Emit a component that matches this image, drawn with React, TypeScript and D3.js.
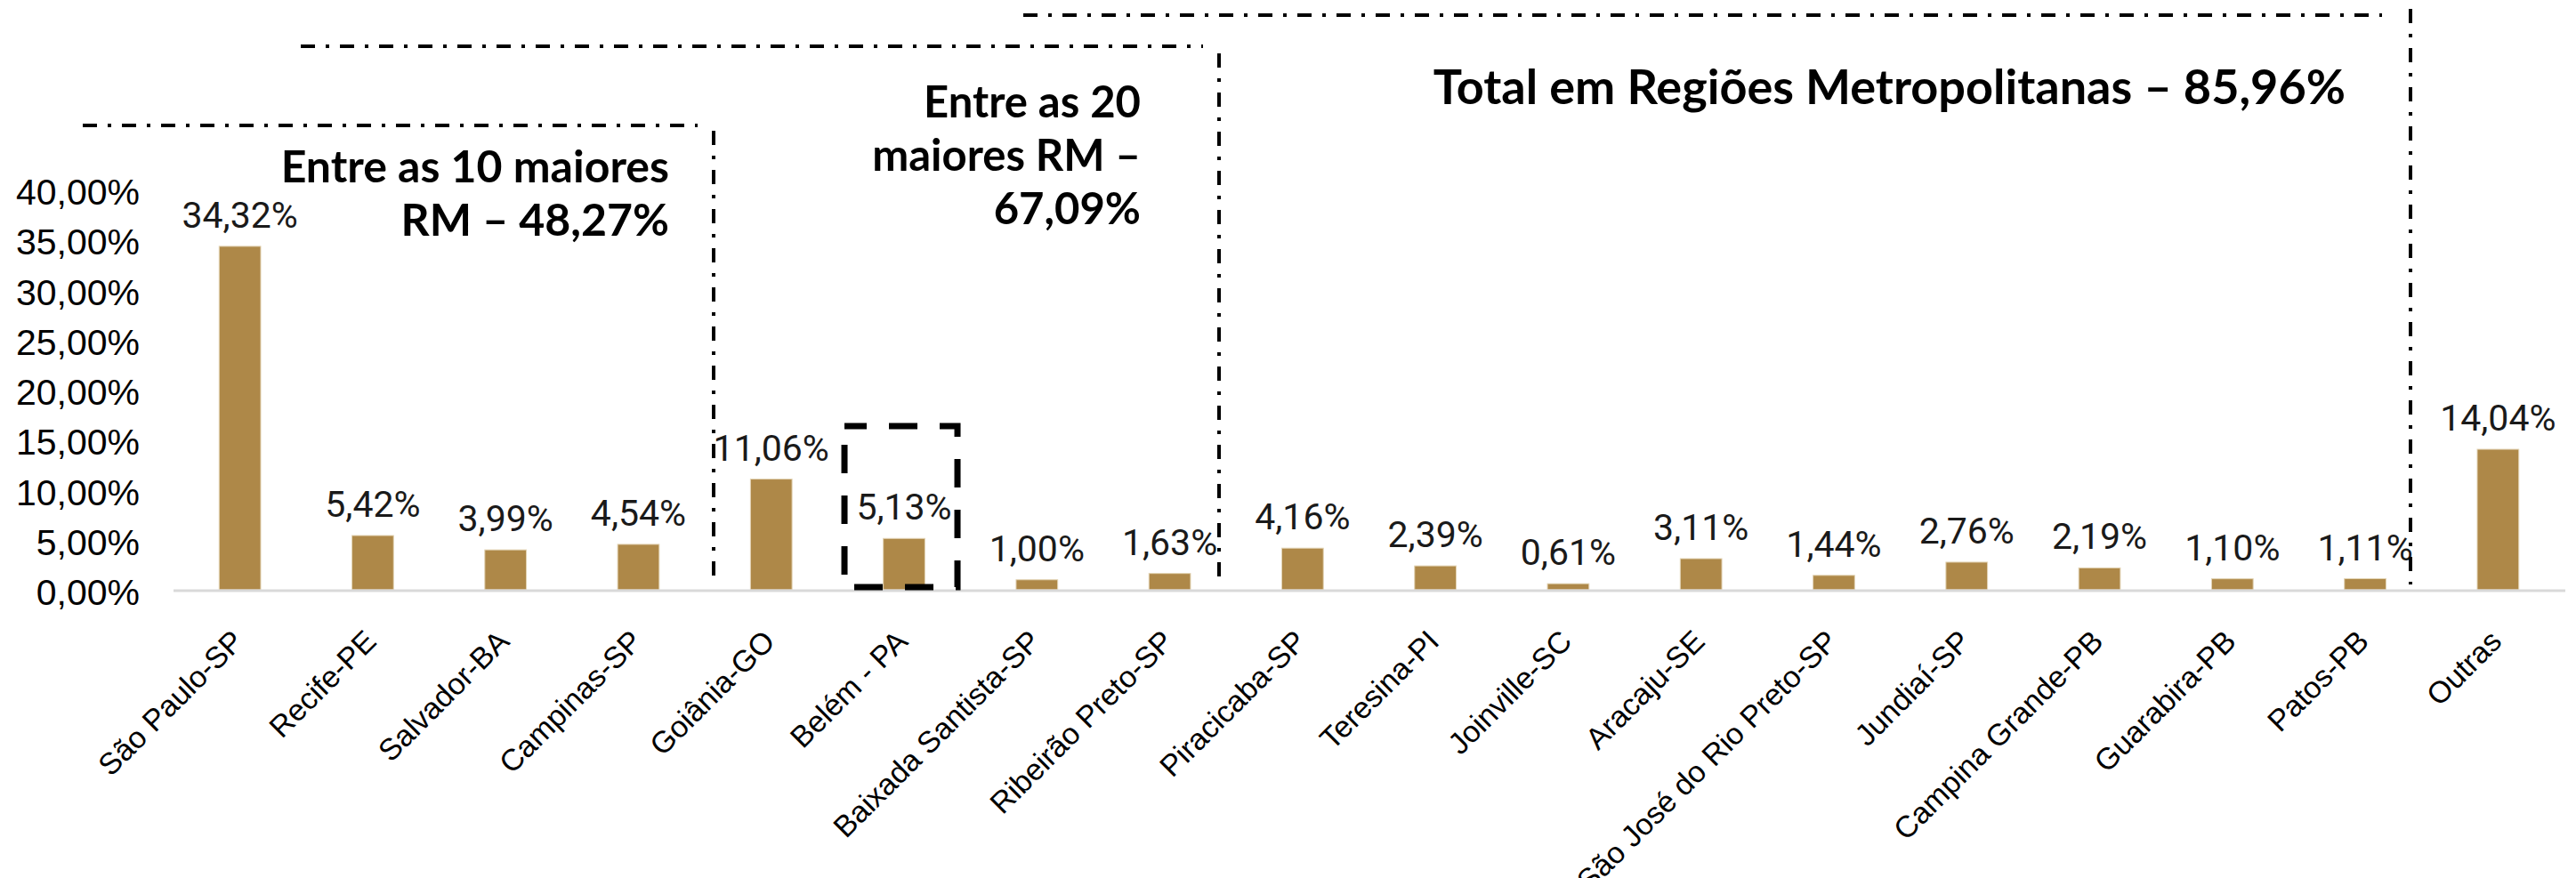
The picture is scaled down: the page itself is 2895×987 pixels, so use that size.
import React from 'react';
import * as d3 from 'd3';

const categories = [
  'São Paulo-SP', 'Recife-PE', 'Salvador-BA', 'Campinas-SP', 'Goiânia-GO', 'Belém - PA',
  'Baixada Santista-SP', 'Ribeirão Preto-SP', 'Piracicaba-SP', 'Teresina-PI', 'Joinville-SC',
  'Aracaju-SE', 'São José do Rio Preto-SP', 'Jundiaí-SP', 'Campina Grande-PB', 'Guarabira-PB',
  'Patos-PB', 'Outras'
];
const shares = [34.32, 5.42, 3.99, 4.54, 11.06, 5.13, 1.0, 1.63, 4.16, 2.39, 0.61, 3.11, 1.44, 2.76, 2.19, 1.1, 1.11, 14.04];
const yTicks = [0, 5, 10, 15, 20, 25, 30, 35, 40];

const groupNotes = [
  {lines: ['Entre as 10 maiores', 'RM – 48,27%'], x: 752, y: 205, size: 50},
  {lines: ['Entre as 20', 'maiores RM –', '67,09%'], x: 1282, y: 132, size: 49},
  {lines: ['Total em Regiões Metropolitanas – 85,96%'], x: 2636, y: 117, size: 54}
];

const W = 2895, H = 987;
const fmt = (v: number) => v.toFixed(2).replace('.', ',') + '%';

const App = () => {
  const x = d3.scaleBand<string>()
    .domain(categories)
    .range([195, 2882])
    .paddingInner(0.687)
    .paddingOuter(0.3435);
  const y = d3.scaleLinear().domain([0, 40]).range([663, 213]);
  const bw = x.bandwidth();

  // dash-dot brackets around the groups
  const dashDot = '16 12 4 12';
  const brackets = [
    {hx0: 93, hx1: 784, hy: 141, vx: 802, vy0: 147},
    {hx0: 338, hx1: 1352, hy: 52, vx: 1370, vy0: 60},
    {hx0: 1150, hx1: 2677, hy: 17, vx: 2709, vy0: 10}
  ];

  // dashed highlight box around Belém
  const bx = (x('Belém - PA') as number) + bw / 2;
  const hl = {x0: bx - 67, x1: bx + 60, y0: 479, y1: 660};

  return (
    <svg width={W} height={H} style={{position: 'absolute', left: 0, top: 0, background: '#fff'}}>
      {/* y axis labels */}
      {yTicks.map(t => (
        <text key={t} x={157} y={y(t) + 3} textAnchor="end" dominantBaseline="central"
          fontFamily="'Liberation Sans', Arial, sans-serif" fontSize={41} fill="#000">
          {fmt(t)}
        </text>
      ))}

      {/* bars */}
      {categories.map((c, i) => (
        <rect key={c} x={x(c)} y={y(shares[i])} width={bw} height={y(0) - y(shares[i])}
          fill="#AE8848" stroke="#e2d3b4" strokeWidth={1} />
      ))}

      {/* baseline */}
      <line x1={195} x2={2883} y1={y(0) + 1} y2={y(0) + 1} stroke="#d9d9d9" strokeWidth={3} />

      {/* value labels */}
      {categories.map((c, i) => (
        <text key={c} x={(x(c) as number) + bw / 2} y={y(shares[i]) - 21} textAnchor="middle"
          fontFamily="Roboto, sans-serif" fontSize={41} fill="#1a1a1a">
          {fmt(shares[i])}
        </text>
      ))}

      {/* category labels */}
      {categories.map(c => (
        <text key={c} transform={`translate(${(x(c) as number) + bw / 2 + 6}, ${y(0) + 60}) rotate(-45)`}
          textAnchor="end" fontFamily="'Liberation Sans', Arial, sans-serif" fontSize={34} fill="#000">
          {c}
        </text>
      ))}

      {/* brackets */}
      {brackets.map((b, i) => (
        <g key={i} stroke="#000" strokeWidth={4} strokeDasharray={dashDot} fill="none">
          <line x1={b.hx0} x2={b.hx1} y1={b.hy} y2={b.hy} />
          <line x1={b.vx} x2={b.vx} y1={b.vy0} y2={657} />
        </g>
      ))}

      <path d={`M${hl.x0},${hl.y0}H${hl.x1}V${hl.y1}H${hl.x0}Z`} fill="none" stroke="#000"
        strokeWidth={7} strokeDasharray="32 25" strokeDashoffset={7} />

      {/* group notes */}
      {groupNotes.map((n, i) => (
        <text key={i} textAnchor="end" fontFamily="Lato, sans-serif" fontWeight={700}
          fontSize={n.size} fill="#000">
          {n.lines.map((l, j) => (
            <tspan key={j} x={n.x} y={n.y + j * 60}>{l}</tspan>
          ))}
        </text>
      ))}
    </svg>
  );
};

export default App;
